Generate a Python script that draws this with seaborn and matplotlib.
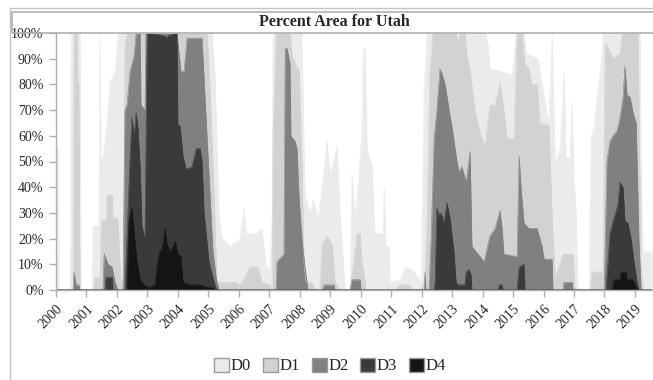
import numpy as np
import pandas as pd
import matplotlib
matplotlib.use("Agg")
import matplotlib.pyplot as plt
from matplotlib.patches import Rectangle, Patch
import seaborn as sns

# Drought levels, each a list of (decimal year, percent of area) breakpoints
levels = ["D0", "D1", "D2", "D3", "D4"]
colors = ["#ebebeb", "#d2d2d2", "#808080", "#3a3a3a", "#151515"]

d0_year = [2000.00, 2000.07, 2000.10, 2000.46, 2000.49, 2000.79, 2000.82, 2001.18, 2001.21, 2001.41,
           2001.44, 2001.48, 2001.54, 2001.67, 2001.77, 2001.94, 2002.03, 2005.12, 2005.22, 2005.35,
           2005.45, 2005.71, 2006.04, 2006.17, 2006.24, 2006.53, 2006.76, 2006.89, 2007.02, 2007.09,
           2007.12, 2008.07, 2008.17, 2008.34, 2008.43, 2008.60, 2008.73, 2008.89, 2008.99, 2009.22,
           2009.32, 2009.49, 2009.65, 2009.71, 2009.81, 2009.91, 2010.04, 2010.08, 2010.14, 2010.21,
           2010.37, 2010.47, 2010.73, 2010.77, 2010.83, 2010.93, 2010.96, 2011.29, 2011.45, 2011.68,
           2011.88, 2011.98, 2012.08, 2012.18, 2014.11, 2014.18, 2014.24, 2014.97, 2015.10, 2015.36,
           2015.43, 2015.82, 2015.92, 2016.05, 2016.18, 2016.28, 2016.38, 2016.54, 2016.67, 2016.74,
           2016.87, 2016.94, 2017.00, 2017.07, 2017.13, 2017.49, 2017.56, 2017.66, 2017.76, 2017.89,
           2017.95, 2019.17, 2019.20, 2019.27, 2019.56]
d0_pct = [56, 56, 0, 0, 100, 100, 0, 0, 25, 25,
          100, 50, 52, 65, 81, 85, 100, 100, 83, 29,
          20, 17, 20, 32, 22, 22, 24, 10, 8, 30,
          100, 100, 37, 30, 35, 28, 40, 58, 45, 56,
          30, 0, 0, 45, 29, 40, 63, 94, 94, 55,
          48, 22, 22, 40, 17, 17, 3, 4, 9, 8,
          5, 3, 80, 100, 100, 95, 86, 84, 100, 100,
          92, 90, 82, 73, 65, 100, 50, 55, 85, 52,
          51, 73, 43, 30, 0, 0, 59, 64, 76, 88,
          100, 100, 49, 15, 15]

d1_year = [2000.00, 2000.56, 2000.59, 2000.69, 2000.72, 2000.75, 2000.79, 2001.21, 2001.28, 2001.41,
           2001.44, 2001.48, 2001.64, 2001.67, 2001.84, 2001.87, 2002.03, 2002.13, 2002.20, 2002.26,
           2002.33, 2004.96, 2005.05, 2005.19, 2005.28, 2005.35, 2005.88, 2006.04, 2006.20, 2006.37,
           2006.63, 2006.76, 2007.02, 2007.09, 2007.12, 2007.22, 2007.68, 2007.75, 2007.98, 2008.07,
           2008.14, 2008.21, 2008.40, 2008.50, 2008.66, 2008.73, 2008.89, 2009.06, 2009.16, 2009.32,
           2009.65, 2009.71, 2009.81, 2009.88, 2009.98, 2010.04, 2010.11, 2010.17, 2011.13, 2011.29,
           2011.62, 2011.68, 2011.98, 2012.11, 2012.18, 2012.27, 2012.37, 2013.13, 2013.19, 2013.26,
           2013.42, 2013.49, 2013.59, 2013.75, 2013.92, 2014.08, 2014.24, 2014.41, 2014.57, 2014.70,
           2014.80, 2015.03, 2015.13, 2015.29, 2015.39, 2015.52, 2015.62, 2015.79, 2015.88, 2016.18,
           2016.28, 2016.38, 2016.64, 2016.97, 2017.03, 2017.53, 2017.59, 2017.95, 2018.02, 2018.18,
           2018.28, 2018.51, 2018.58, 2019.10, 2019.20, 2019.27, 2019.56]
d1_pct = [0, 0, 100, 100, 80, 80, 0, 0, 5, 5,
          0, 27, 27, 37, 37, 28, 28, 3, 5, 95,
          100, 100, 80, 36, 4, 3, 3, 2, 5, 9,
          9, 3, 2, 0, 60, 100, 100, 91, 85, 50,
          10, 3, 3, 0, 0, 18, 21, 18, 3, 0,
          0, 5, 15, 22, 22, 11, 6, 0, 0, 2,
          2, 0, 0, 5, 30, 85, 100, 100, 96, 100,
          100, 91, 85, 70, 61, 56, 72, 72, 81, 70,
          59, 59, 100, 100, 88, 86, 80, 80, 65, 64,
          29, 5, 14, 14, 0, 0, 7, 7, 96, 93,
          90, 92, 100, 100, 10, 0, 0]

d2_year = [2000.00, 2000.56, 2000.59, 2000.66, 2000.75, 2000.79, 2001.54, 2001.58, 2001.71, 2001.84,
           2001.94, 2002.03, 2002.20, 2002.26, 2002.33, 2002.43, 2002.56, 2002.63, 2002.76, 2002.79,
           2002.92, 2002.95, 2003.97, 2004.10, 2004.20, 2004.30, 2004.79, 2004.89, 2005.02, 2005.15,
           2005.28, 2005.35, 2007.22, 2007.25, 2007.48, 2007.52, 2007.58, 2007.68, 2007.71, 2007.84,
           2007.91, 2007.98, 2008.07, 2008.17, 2008.27, 2008.73, 2008.80, 2009.12, 2009.16, 2009.65,
           2009.71, 2009.98, 2010.01, 2012.08, 2012.11, 2012.14, 2012.24, 2012.31, 2012.41, 2012.50,
           2012.60, 2012.67, 2012.77, 2012.90, 2013.00, 2013.10, 2013.16, 2013.23, 2013.32, 2013.46,
           2013.55, 2013.59, 2013.65, 2013.78, 2013.92, 2014.05, 2014.24, 2014.41, 2014.57, 2014.64,
           2014.70, 2015.13, 2015.20, 2015.26, 2015.36, 2015.52, 2015.79, 2015.95, 2016.02, 2016.28,
           2016.31, 2016.64, 2016.67, 2016.94, 2016.97, 2017.99, 2018.08, 2018.18, 2018.28, 2018.41,
           2018.51, 2018.61, 2018.67, 2018.74, 2018.84, 2018.94, 2019.04, 2019.13, 2019.20, 2019.56]
d2_pct = [0, 0, 7, 2, 2, 0, 0, 14, 10, 9,
          3, 0, 0, 70, 72, 85, 91, 100, 100, 72,
          70, 100, 100, 85, 85, 98, 98, 75, 45, 15,
          3, 0, 0, 11, 14, 94, 94, 88, 60, 58,
          55, 35, 20, 9, 0, 0, 2, 2, 0, 0,
          4, 4, 0, 0, 7, 0, 0, 20, 59, 70,
          86, 84, 80, 70, 63, 55, 50, 46, 48, 42,
          50, 54, 17, 15, 13, 11, 21, 24, 31, 24,
          14, 13, 52, 40, 26, 24, 24, 17, 12, 12,
          0, 0, 3, 3, 0, 0, 50, 58, 60, 62,
          67, 75, 87, 76, 75, 69, 65, 20, 0, 0]

d3_year = [2000.00, 2001.61, 2001.64, 2001.84, 2001.87, 2002.26, 2002.36, 2002.43, 2002.49, 2002.56,
           2002.63, 2002.69, 2002.76, 2002.82, 2002.92, 2002.99, 2003.55, 2003.62, 2003.68, 2003.97,
           2004.00, 2004.07, 2004.17, 2004.27, 2004.46, 2004.60, 2004.73, 2004.79, 2004.86, 2005.02,
           2005.19, 2005.28, 2012.41, 2012.44, 2012.50, 2012.57, 2012.64, 2012.73, 2012.83, 2012.93,
           2013.06, 2013.13, 2013.19, 2013.42, 2013.46, 2013.55, 2013.62, 2013.65, 2014.51, 2014.54,
           2014.64, 2014.67, 2015.13, 2015.20, 2015.36, 2015.39, 2018.05, 2018.18, 2018.31, 2018.44,
           2018.51, 2018.61, 2018.67, 2018.77, 2018.87, 2018.97, 2019.07, 2019.13, 2019.56]
d3_pct = [0, 0, 5, 5, 0, 0, 30, 52, 67, 60,
          69, 63, 48, 25, 20, 100, 99, 98, 99, 100,
          64, 64, 52, 47, 48, 55, 55, 50, 30, 11,
          3, 0, 0, 3, 32, 29, 30, 26, 34, 28,
          15, 3, 2, 2, 7, 8, 6, 0, 0, 2,
          2, 0, 0, 9, 10, 0, 0, 22, 28, 33,
          42, 40, 27, 26, 20, 11, 3, 0, 0]

d4_year = [2000.00, 2002.33, 2002.40, 2002.49, 2002.59, 2002.66, 2002.76, 2002.89, 2003.05, 2003.25,
           2003.32, 2003.41, 2003.48, 2003.58, 2003.64, 2003.74, 2003.84, 2003.91, 2004.00, 2004.10,
           2004.17, 2004.40, 2004.73, 2004.99, 2005.15, 2005.22, 2018.25, 2018.31, 2018.51, 2018.54,
           2018.71, 2018.74, 2018.94, 2019.04, 2019.10, 2019.56]
d4_pct = [0, 0, 27, 32, 19, 11, 4, 2, 1, 2,
          10, 15, 16, 24, 18, 15, 17, 19, 14, 13,
          3, 2, 2, 1, 1, 0, 0, 4, 4, 7,
          7, 4, 4, 1, 0, 0]

years = [str(y) for y in range(2000, 2020)]
y_ticks = list(range(0, 101, 10))

series = {
    "D0": (d0_year, d0_pct),
    "D1": (d1_year, d1_pct),
    "D2": (d2_year, d2_pct),
    "D3": (d3_year, d3_pct),
    "D4": (d4_year, d4_pct),
}

sns.set_style("white")
plt.rcParams["font.family"] = ["Liberation Serif", "DejaVu Serif"]

W, H = 653, 380
fig = plt.figure(figsize=(W / 100, H / 100), dpi=100)

# outer frame and title box
fig.patches.append(Rectangle((10 / W, -0.01), 1, 1 - 8 / H + 0.01, transform=fig.transFigure,
                             fill=False, edgecolor="#c4c4c4", linewidth=1.0))
fig.patches.append(Rectangle((12 / W, 1 - 33 / H), 1, 21 / H, transform=fig.transFigure,
                             fill=False, edgecolor="#b0b0b0", linewidth=1.2))
fig.text(334 / W, 1 - 22.5 / H, "Percent Area for Utah", ha="center", va="center",
         fontsize=11.5, fontweight="bold")

ax = fig.add_axes([56 / W, 1 - 290 / H, (652 - 56) / W, (290 - 33) / H])

for lvl, col in zip(levels, colors):
    xs, ys = series[lvl]
    df = pd.DataFrame({"year": xs, "pct": ys})
    ax.fill_between(df["year"], 0, df["pct"], color=col, linewidth=0)
    sns.lineplot(data=df, x="year", y="pct", ax=ax, color=col, linewidth=0.4, sort=False)

ax.set_xlim(2000, 2019.56)
ax.set_ylim(0, 100)
ax.set_xlabel("")
ax.set_ylabel("")
ax.set_yticks(y_ticks)
ax.set_yticklabels([f"{t}%" for t in y_ticks], fontsize=10)
ax.set_xticks([int(y) for y in years])
ax.set_xticklabels(years, rotation=45, ha="right", rotation_mode="anchor", fontsize=10)
ax.tick_params(axis="both", which="major", direction="out", length=5, width=1,
               color="#b0b0b0", pad=4, left=True, bottom=True)
for side in ["top", "right"]:
    ax.spines[side].set_visible(False)
for side in ["left", "bottom"]:
    ax.spines[side].set_color("#b0b0b0")
    ax.spines[side].set_linewidth(1)

handles = [Patch(facecolor=c, edgecolor="#9a9a9a", linewidth=1) for c in colors]
fig.legend(handles, levels, loc="center", bbox_to_anchor=(330 / W, 1 - 366 / H), ncol=5,
           frameon=False, fontsize=12, handlelength=0.9, handleheight=0.9,
           handletextpad=0.1, columnspacing=0.7, borderaxespad=0)

fig.savefig("out.png", dpi=100)
